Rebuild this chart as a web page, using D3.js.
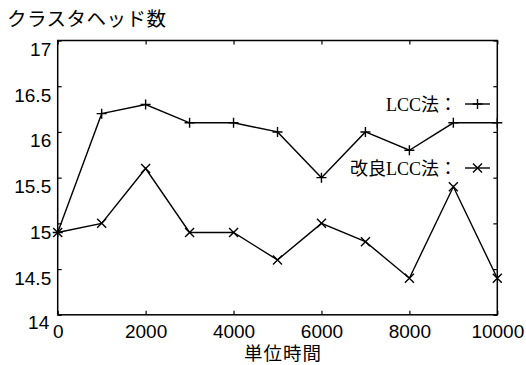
<!DOCTYPE html>
<html>
<head>
<meta charset="utf-8">
<script src="https://cdn.jsdelivr.net/npm/d3@7"></script>
<style>
  body { margin: 0; background: #fff; }
  svg { display: block; }
</style>
</head>
<body>
<div id="chart"></div>
<script>
const times = [0, 1000, 2000, 3000, 4000, 5000, 6000, 7000, 8000, 9000, 10000];
const lcc = [14.9, 16.2, 16.3, 16.1, 16.1, 16.0, 15.5, 16.0, 15.8, 16.1, 16.1];
const improved = [14.9, 15.0, 15.6, 14.9, 14.9, 14.6, 15.0, 14.8, 14.4, 15.4, 14.4];
const xTicks = [0, 2000, 4000, 6000, 8000, 10000];
const yTicks = [14, 14.5, 15, 15.5, 16, 16.5, 17];

const width = 526, height = 365;
const plotLeft = 57.7, plotRight = 497.3, plotTop = 40.5, plotBottom = 314.8;

const svg = d3.select("#chart").append("svg").attr("width", width).attr("height", height);

const x = d3.scaleLinear().domain([0, 10000]).range([plotLeft, plotRight]);
const y = d3.scaleLinear().domain([14, 17]).range([plotBottom, plotTop]);

const sans = "'Liberation Sans', Arial, sans-serif";

// ticks (inward, mirrored on all sides)
svg.append("g").attr("transform", `translate(0,${plotBottom})`)
  .call(d3.axisBottom(x).tickValues(xTicks).tickSize(-4).tickFormat(d => d))
  .call(g => g.select(".domain").remove())
  .call(g => g.selectAll("text").attr("dy", null).attr("y", 23).style("font-size", "19px").style("font-family", sans).attr("fill", "#000"));
svg.append("g").attr("transform", `translate(0,${plotTop})`)
  .call(d3.axisTop(x).tickValues(xTicks).tickSize(-4).tickFormat(""))
  .call(g => g.select(".domain").remove());
svg.append("g").attr("transform", `translate(${plotLeft},0)`)
  .call(d3.axisLeft(y).tickValues(yTicks).tickSize(-4).tickPadding(6.5).tickFormat(d => d))
  .call(g => g.select(".domain").remove())
  .call(g => g.selectAll("text").attr("dy", d => d == 14 ? 13.5 : 15).attr("x", d => d == 14 ? -8.5 : -6.5).style("font-size", "19px").style("font-family", sans).attr("fill", "#000"));
svg.append("g").attr("transform", `translate(${plotRight},0)`)
  .call(d3.axisRight(y).tickValues(yTicks).tickSize(-4).tickFormat(""))
  .call(g => g.select(".domain").remove());
svg.selectAll(".tick line").attr("stroke", "#000").attr("stroke-width", 1.2);

// frame
svg.append("rect").attr("x", plotLeft).attr("y", plotTop).attr("width", plotRight - plotLeft).attr("height", plotBottom - plotTop)
  .attr("fill", "none").attr("stroke", "#000").attr("stroke-width", 1.5);

const line = d3.line().x((d, i) => x(times[i])).y(d => y(d));
const plus = "M-5,0H5M0,-5V5";
const cross = "M-4.5,-4.5L4.5,4.5M-4.5,4.5L4.5,-4.5";

function series(values, marker) {
  svg.append("path").datum(values).attr("d", line).attr("fill", "none").attr("stroke", "#000").attr("stroke-width", 1.4);
  svg.append("g").selectAll("path").data(values).enter().append("path")
    .attr("transform", (d, i) => `translate(${x(times[i])},${y(d)})`)
    .attr("d", marker).attr("stroke", "#000").attr("stroke-width", 1.4).attr("fill", "none");
}
series(lcc, plus);
series(improved, cross);

// legend
const serif = "'Liberation Serif', 'Noto Sans CJK JP', serif";
const legend = [
  { label: "LCC法：", marker: plus, y: 104 },
  { label: "改良LCC法：", marker: cross, y: 168 },
];
legend.forEach(l => {
  svg.append("text").attr("x", 457).attr("y", l.y + 6.5).attr("text-anchor", "end")
    .style("font-family", serif).style("font-size", "18px").text(l.label);
  svg.append("line").attr("x1", 465).attr("x2", 490).attr("y1", l.y).attr("y2", l.y).attr("stroke", "#000").attr("stroke-width", 1.4);
  svg.append("path").attr("transform", `translate(477.5,${l.y})`).attr("d", l.marker).attr("stroke", "#000").attr("stroke-width", 1.4);
});

// axis titles
const cjk = "'Noto Sans CJK JP', sans-serif";
svg.append("text").attr("x", 7).attr("y", 26).style("font-family", cjk).style("font-size", "19.5px").style("letter-spacing", "0.5px").text("クラスタヘッド数");
svg.append("text").attr("x", 283).attr("y", 360).attr("text-anchor", "middle").style("font-family", cjk).style("font-size", "18.5px").style("letter-spacing", "1px").text("単位時間");
</script>
</body>
</html>
